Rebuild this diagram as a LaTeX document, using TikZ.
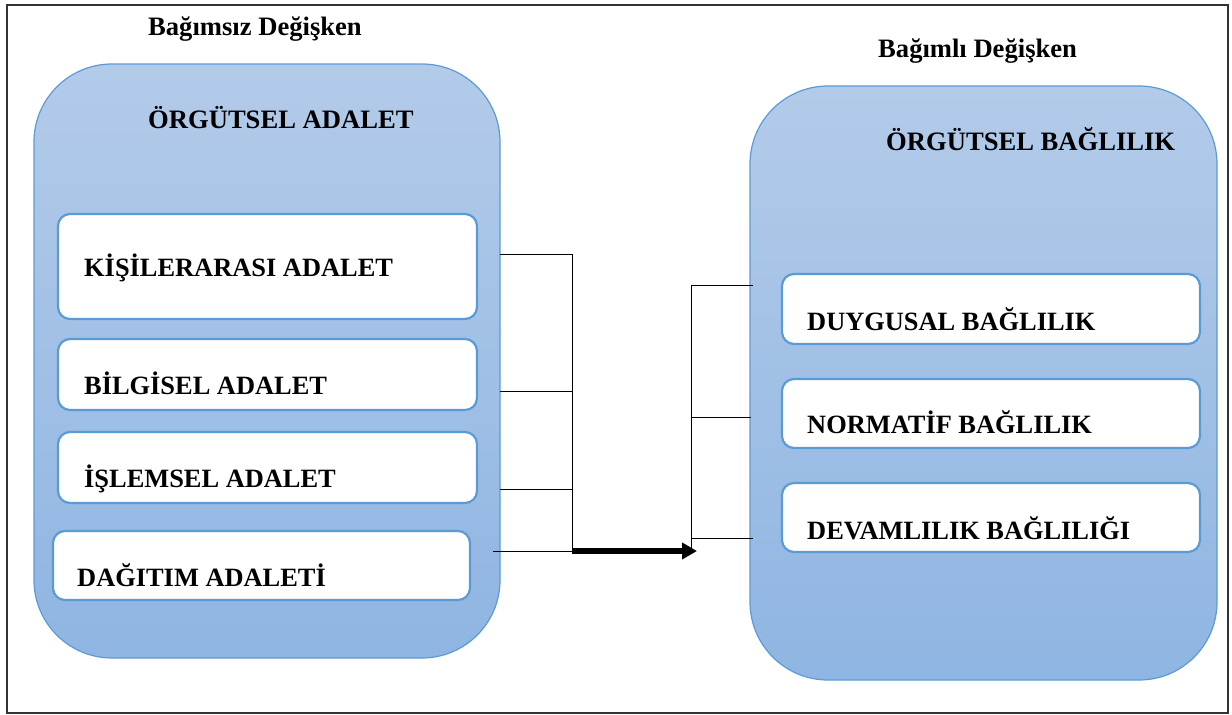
\documentclass[tikz,border=0pt]{standalone}
\usepackage{fontspec}
\setmainfont{Liberation Serif}
\usetikzlibrary{arrows.meta}
\definecolor{edgeblue}{HTML}{5B9BD5}
\definecolor{panetop}{HTML}{B3CBE9}
\definecolor{panebot}{HTML}{8FB5E2}
\tikzset{
  pane/.style={draw=edgeblue, line width=1.2pt, rounded corners=78pt,
    top color=panetop, bottom color=panebot, anchor=north west,
    inner sep=0pt, outer sep=0pt},
  itembox/.style={draw=edgeblue, line width=2.2pt, rounded corners=12pt,
    fill=white, anchor=north west, inner sep=0pt, outer sep=0pt},
  heading/.style={anchor=base west, inner sep=0pt, font=\fontsize{26.6}{30}\selectfont\bfseries},
  itemtext/.style={anchor=base west, inner sep=0pt, font=\fontsize{26.4}{30}\selectfont\bfseries},
  link/.style={line width=1pt, black},
  flow/.style={line width=5.5pt, black, -{Triangle[length=15pt,width=16pt]}}
}
\begin{document}
\begin{tikzpicture}[x=1pt,y=-1pt]
\useasboundingbox (0,0) rectangle (1232,715);
\draw[line width=1.2pt, black!80] (7,5) rectangle (1228,713);

% independent variable group
\node[heading] (indep) at (148,35) {Bağımsız Değişken};
\node[pane, minimum width=466pt, minimum height=594pt] (L) at (34,64) {};
\node[heading] (Ltitle) at (148,128) {ÖRGÜTSEL ADALET};
\node[itembox, minimum width=419pt, minimum height=105pt] (l1) at (58,214) {};
\node[itembox, minimum width=419pt, minimum height=71pt] (l2) at (58,339) {};
\node[itembox, minimum width=419pt, minimum height=71pt] (l3) at (58,432) {};
\node[itembox, minimum width=417pt, minimum height=69pt] (l4) at (53,531) {};
\node[itemtext] (t1) at (84,276) {KİŞİLERARASI ADALET};
\node[itemtext] (t2) at (84,394) {BİLGİSEL ADALET};
\node[itemtext] (t3) at (84,487) {İŞLEMSEL ADALET};
\node[itemtext] (t4) at (77,586) {DAĞITIM ADALETİ};

% dependent variable group
\node[heading] (dep) at (878,57) {Bağımlı Değişken};
\node[pane, minimum width=467pt, minimum height=594pt] (R) at (750,86) {};
\node[heading] (Rtitle) at (886,150) {ÖRGÜTSEL BAĞLILIK};
\node[itembox, minimum width=418pt, minimum height=70pt] (r1) at (782,274) {};
\node[itembox, minimum width=418pt, minimum height=69pt] (r2) at (782,379) {};
\node[itembox, minimum width=418pt, minimum height=69pt] (r3) at (782,483) {};
\node[itemtext] (u1) at (807,330) {DUYGUSAL BAĞLILIK};
\node[itemtext] (u2) at (807,433) {NORMATİF BAĞLILIK};
\node[itemtext] (u3) at (807,539) {DEVAMLILIK BAĞLILIĞI};

% connector points
\coordinate (a1) at (500,254); \coordinate (b1) at (572,254);
\coordinate (a2) at (500,391); \coordinate (b2) at (572,391);
\coordinate (a3) at (500,489); \coordinate (b3) at (572,489);
\coordinate (a4) at (493,551); \coordinate (b4) at (572,551);
\coordinate (c1) at (691,285); \coordinate (d1) at (753,285);
\coordinate (c2) at (691,417); \coordinate (d2) at (751,417);
\coordinate (c3) at (691,538); \coordinate (d3) at (753,538);
\coordinate (c4) at (691,551);
\coordinate (tip) at (697,551);

\draw[link] (a1) -- (b1) -- (b4);
\draw[link] (a2) -- (b2);
\draw[link] (a3) -- (b3);
\draw[link] (a4) -- (b4);
\draw[link] (d1) -- (c1) -- (c4);
\draw[link] (c2) -- (d2);
\draw[link] (c3) -- (d3);
\draw[flow] (b4) -- (tip);
\end{tikzpicture}
\end{document}
